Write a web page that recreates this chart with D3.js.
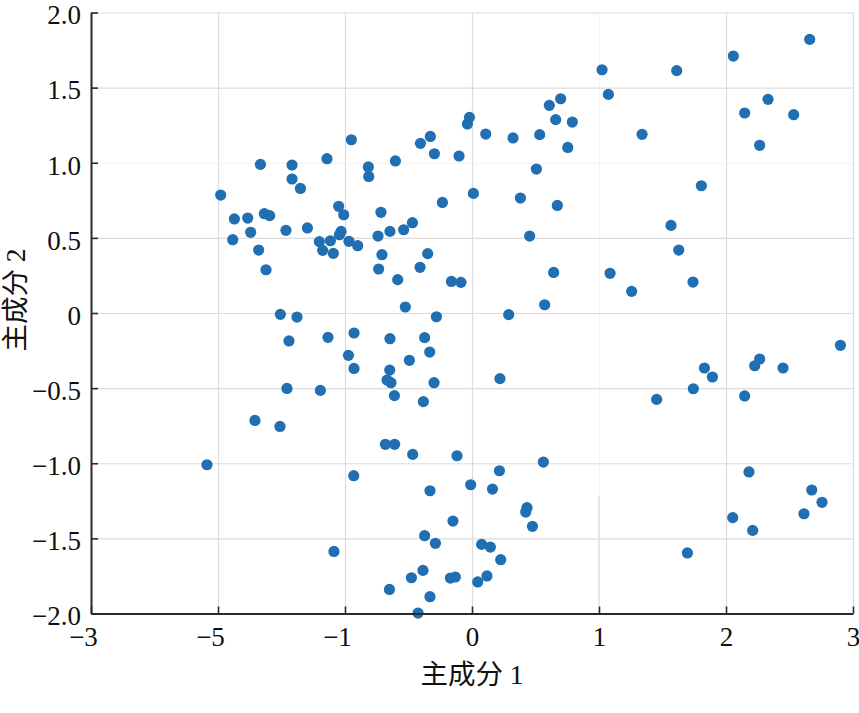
<!DOCTYPE html>
<html>
<head>
<meta charset="utf-8">
<script src="https://cdn.jsdelivr.net/npm/d3@7"></script>
<style>
  html, body { margin: 0; padding: 0; background: #fff; }
  svg { display: block; }
  .tick text { font-family: "Liberation Serif", "Times New Roman", serif; }
</style>
</head>
<body>
<svg id="chart" width="859" height="713"></svg>
<script>
// Data: principal component scores (PC1, PC2)
const pc1 = [
  -0.950,-1.666,-1.417,-1.142,-1.417,-1.351,-1.979,-1.871,-1.766,-1.635,
  -1.593,-1.050,-1.010,-1.743,-1.884,-1.465,-1.296,-1.031,-1.044,-1.202,
  -1.115,-0.969,-0.900,-1.176,-1.092,-1.680,-1.622,-1.509,-1.378,
  -0.816,-0.813,-0.603,-0.406,-0.328,-0.296,-0.102,-0.020,-0.036,0.108,
  0.323,0.533,0.609,0.698,0.659,0.790,0.754,0.507,1.024,1.074,
  0.011,-0.233,0.381,0.672,-0.717,-0.469,-0.538,-0.646,-0.740,0.454,
  -0.709,-0.349,-0.735,-0.409,-0.585,-0.162,-0.087,0.643,1.087,-0.525,
  -0.280,0.289,0.572,
  1.612,2.058,2.659,1.339,2.331,2.147,2.533,2.265,1.806,1.567,1.628,1.740,1.257,
  -0.929,-1.441,-1.134,-0.973,-0.929,-1.457,-1.194,-1.709,-1.512,-2.087,-0.931,-1.087,
  -0.646,-0.373,-0.333,-0.493,-0.648,-0.669,-0.638,-0.299,0.220,-0.611,
  -0.383,-0.682,-0.609,-0.467,-0.118,0.562,0.216,-0.010,-0.331,0.161,
  0.433,0.423,0.476,-0.150,-0.373,-0.288,0.076,0.145,0.226,-0.386,
  -0.477,-0.170,-0.131,0.118,0.045,-0.650,-0.331,-0.425,
  2.901,2.265,2.226,2.449,1.830,1.893,1.743,1.454,2.147,2.181,
  2.675,2.756,2.614,2.053,2.210,1.696
];
const pc2 = [
  1.153,0.989,0.985,1.027,0.892,0.829,0.785,0.626,0.632,0.661,
  0.648,0.710,0.654,0.537,0.488,0.550,0.566,0.543,0.521,0.475,
  0.481,0.477,0.448,0.417,0.397,0.419,0.288,-0.009,-0.027,
  0.972,0.909,1.012,1.129,1.175,1.060,1.045,1.302,1.258,1.191,
  1.165,1.187,1.382,1.426,1.287,1.271,1.102,0.958,1.619,1.455,
  0.796,0.736,0.765,0.716,0.670,0.601,0.554,0.543,0.512,0.512,
  0.388,0.395,0.293,0.304,0.222,0.210,0.204,0.270,0.264,0.040,
  -0.025,-0.011,0.055,
  1.613,1.710,1.821,1.189,1.422,1.331,1.320,1.116,0.847,0.583,0.419,0.206,0.144,
  -0.133,-0.186,-0.162,-0.282,-0.369,-0.502,-0.515,-0.715,-0.755,-1.010,-1.083,-1.587,
  -0.171,-0.164,-0.260,-0.315,-0.380,-0.446,-0.464,-0.464,-0.437,-0.550,
  -0.590,-0.874,-0.874,-0.941,-0.950,-0.992,-1.050,-1.143,-1.183,-1.172,
  -1.296,-1.325,-1.420,-1.385,-1.482,-1.533,-1.540,-1.558,-1.642,-1.713,
  -1.762,-1.764,-1.757,-1.750,-1.790,-1.840,-1.888,-1.997,
  -0.215,-0.306,-0.351,-0.366,-0.366,-0.426,-0.504,-0.575,-0.552,-1.058,
  -1.178,-1.260,-1.336,-1.362,-1.447,-1.597
];
const xTicks = [-3, -2, -1, 0, 1, 2, 3];
const xTickLabels = ["\u22123", "\u22125", "\u22121", "0", "1", "2", "3"];
const yTicks = [2.0, 1.5, 1.0, 0.5, 0, -0.5, -1.0, -1.5, -2.0];
const yTickLabels = ["2.0", "1.5", "1.0", "0.5", "0", "\u22120.5", "\u22121.0", "\u22121.5", "\u22122.0"];
const xLabel = "主成分 1";
const yLabel = "主成分 2";

const points = pc1.map((v, i) => ({ x: v, y: pc2[i] }));

const margin = { left: 91, right: 6, top: 12.5, bottom: 99.5 };
const W = 859, H = 713;
const iw = W - margin.left - margin.right;
const ih = H - margin.top - margin.bottom;

const svg = d3.select("#chart");
const g = svg.append("g").attr("transform", `translate(${margin.left},${margin.top})`);

const x = d3.scaleLinear().domain([-3, 3]).range([0, iw]);
const y = d3.scaleLinear().domain([-2, 2]).range([ih, 0]);

const fmtX = d => xTickLabels[xTicks.indexOf(d)];
const fmtY = d => yTickLabels[yTicks.indexOf(d)];

// grid
g.append("g").attr("class", "grid")
  .attr("transform", `translate(0,${ih})`)
  .call(d3.axisBottom(x).tickValues(xTicks).tickSize(-ih).tickFormat(""));
g.append("g").attr("class", "grid")
  .call(d3.axisLeft(y).tickValues(yTicks).tickSize(-iw).tickFormat(""));
g.selectAll(".grid .domain").remove();
g.selectAll(".grid line").attr("stroke", "#dcdcdc").attr("stroke-width", 1.2);
// the x = 1 grid line is faint over most of its height in the reference
g.selectAll(".grid .tick").filter(d => d === 1).select("line")
  .attr("stroke", "#f2f2f2");
g.append("line")
  .attr("x1", x(1)).attr("x2", x(1))
  .attr("y1", y(-1.22)).attr("y2", y(-2))
  .attr("stroke", "#dcdcdc").attr("stroke-width", 1.2);

// points
g.append("g").selectAll("circle").data(points).join("circle")
  .attr("cx", d => x(d.x))
  .attr("cy", d => y(d.y))
  .attr("r", 5.6)
  .attr("fill", "#1f6fb2");

// axes
const axX = g.append("g")
  .attr("transform", `translate(0,${ih})`)
  .call(d3.axisBottom(x).tickValues(xTicks).tickFormat(fmtX).tickSizeInner(-7).tickSizeOuter(0).tickPadding(12));
const axY = g.append("g")
  .call(d3.axisLeft(y).tickValues(yTicks).tickFormat(fmtY).tickSizeInner(-7).tickSizeOuter(0).tickPadding(10));

[axX, axY].forEach(a => {
  a.select(".domain").attr("stroke", "#2a2a2a").attr("stroke-width", 2);
  a.selectAll(".tick line").attr("stroke", "#2a2a2a").attr("stroke-width", 1.6);
  a.selectAll(".tick text").attr("fill", "#111").style("font-size", "27px");
});
axY.selectAll(".tick text").attr("dy", "0.42em");
axX.selectAll(".tick text").attr("dy", "0.76em")
  .attr("dx", d => d < 0 ? -8 : 0);

// axis labels
svg.append("text")
  .attr("x", margin.left + x(0))
  .attr("y", 684)
  .attr("text-anchor", "middle")
  .style("font-family", "'Liberation Serif', 'Noto Sans CJK SC', serif")
  .style("font-size", "27.5px")
  .attr("fill", "#111")
  .text(xLabel);

svg.append("text")
  .attr("transform", `translate(25,300) rotate(-90)`)
  .attr("text-anchor", "middle")
  .style("font-family", "'Liberation Serif', 'Noto Sans CJK SC', serif")
  .style("font-size", "27.5px")
  .attr("fill", "#111")
  .text(yLabel);
</script>
</body>
</html>
